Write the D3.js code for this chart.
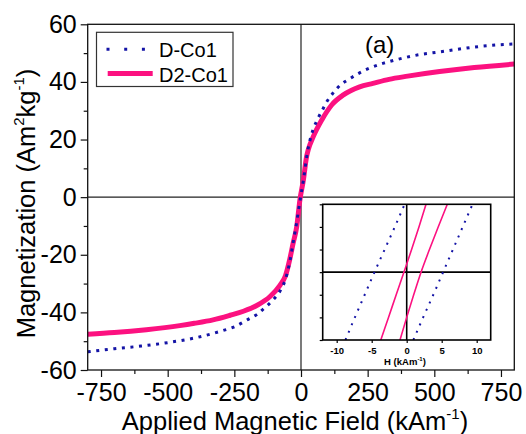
<!DOCTYPE html>
<html>
<head>
<meta charset="utf-8">
<script src="https://cdn.jsdelivr.net/npm/d3@7"></script>
<style>
  html, body { margin: 0; padding: 0; background: #fff; }
  svg { display: block; font-family: "Liberation Sans", Arial, sans-serif; }
</style>
</head>
<body>
<svg id="chart" width="526" height="434"></svg>
<script>
// Magnetization curves, M (Am^2/kg) versus applied field H (kA/m)
const seriesNames = ["D-Co1", "D2-Co1"];

const fieldDCo1 = [-800, -700, -600, -500, -400, -300, -250, -200, -165, -135, -100, -80, -65, -52, -40, -29, -16, -8, 0, 10, 24, 38, 50, 65, 80, 96, 119, 150, 181, 215, 250, 310, 370, 440, 510, 570, 650, 730, 800];
const magDCo1   = [-53.7, -52.6, -51.7, -50.5, -48.9, -46.5, -45.0, -42.5, -40.7, -38.3, -35.2, -32.8, -30.2, -26.5, -21.5, -15.5, -8.6, -3.8, 0.8, 6.5, 15.5, 21.3, 24.6, 27.6, 30.2, 33.0, 36.0, 39.1, 41.0, 42.9, 44.5, 46.5, 48.0, 49.4, 50.3, 51.1, 52.1, 52.8, 53.2];

const fieldD2Co1 = [-800, -700, -580, -455, -400, -330, -266, -216, -166, -116, -79, -58, -42, -30, -16, -4, 9, 21, 27, 46, 78, 115, 159, 220, 270, 330, 400, 520, 650, 800];
const magD2Co1   = [-47.6, -47.0, -46.0, -44.6, -43.8, -42.6, -41.0, -39.6, -37.6, -34.5, -30.6, -27.2, -21.5, -16.2, -10.2, -0.9, 6.0, 14.1, 16.4, 21.0, 26.8, 32.0, 35.5, 38.3, 39.5, 40.9, 42.0, 43.6, 45.0, 46.2];

// Low-field detail of the loops (inset)
const insetMag        = [-3, -2, -1, 0, 1, 2, 3];
const insetDCo1Down   = [-8.75, -7.4, -6.0, -4.6, -3.15, -1.7, -0.3];
const insetDCo1Up     = [0.95, 2.35, 3.8, 5.2, 6.6, 8.0, 9.4];
const insetD2Co1Down  = [-3.7, -2.6, -1.5, -0.4, 0.7, 1.75, 2.76];
const insetD2Co1Up    = [-0.96, 0.0, 1.0, 2.05, 3.25, 4.5, 5.8];

const xTickValues = [-750, -500, -250, 0, 250, 500, 750];
const xMinorTicks = [-625, -375, -125, 125, 375, 625];
const yTickValues = [-60, -40, -20, 0, 20, 40, 60];
const yMinorTicks = [-50, -30, -10, 10, 30, 50];
const insetXTicks = [-10, -5, 0, 5, 10];
const insetYTicks = [-3, -2, -1, 0, 1, 2, 3];

const blue = "#1414a6";
const pink = "#fc1180";

const svg = d3.select("#chart");

const plot = { left: 87.7, right: 514.3, top: 24.3, bottom: 370 };
const x = d3.scaleLinear().domain([-800, 800]).range([plot.left, plot.right]);
const y = d3.scaleLinear().domain([-60, 60]).range([plot.bottom, plot.top]);

svg.append("defs").append("clipPath").attr("id", "plotClip")
  .append("rect")
  .attr("x", plot.left).attr("y", plot.top)
  .attr("width", plot.right - plot.left).attr("height", plot.bottom - plot.top);

// zero lines
svg.append("line")
  .attr("x1", x(0)).attr("x2", x(0)).attr("y1", plot.top).attr("y2", plot.bottom)
  .attr("stroke", "#333").attr("stroke-width", 1.3);
svg.append("line")
  .attr("x1", plot.left).attr("x2", plot.right).attr("y1", y(0)).attr("y2", y(0))
  .attr("stroke", "#222").attr("stroke-width", 1.3);

// axes
const fmt = d => String(d);
const xAxis = svg.append("g").attr("transform", `translate(0,${plot.bottom})`)
  .call(d3.axisBottom(x).tickValues(xTickValues).tickSize(7).tickPadding(6.5).tickFormat(fmt));
const xMinor = svg.append("g").attr("transform", `translate(0,${plot.bottom})`)
  .call(d3.axisBottom(x).tickValues(xMinorTicks).tickSize(4).tickFormat(""));
const yAxis = svg.append("g").attr("transform", `translate(${plot.left},0)`)
  .call(d3.axisLeft(y).tickValues(yTickValues).tickSize(7).tickPadding(4).tickFormat(fmt));
const yMinor = svg.append("g").attr("transform", `translate(${plot.left},0)`)
  .call(d3.axisLeft(y).tickValues(yMinorTicks).tickSize(4).tickFormat(""));

[xAxis, xMinor, yAxis, yMinor].forEach(g => {
  g.select(".domain").remove();
  g.selectAll(".tick line").attr("stroke", "#111").attr("stroke-width", 1.2);
  g.selectAll("text").attr("font-size", 25).attr("fill", "#000")
    .attr("font-family", "'Liberation Sans', Arial, sans-serif");
});

// curves
const mainLine = d3.line().x(d => x(d[0])).y(d => y(d[1])).curve(d3.curveMonotoneX);
const curves = svg.append("g").attr("clip-path", "url(#plotClip)");

curves.append("path")
  .datum(d3.zip(fieldD2Co1, magD2Co1))
  .attr("d", mainLine)
  .attr("fill", "none").attr("stroke", pink).attr("stroke-width", 5)
  .attr("stroke-linejoin", "round");

curves.append("path")
  .datum(d3.zip(fieldDCo1, magDCo1))
  .attr("d", mainLine)
  .attr("fill", "none").attr("stroke", blue).attr("stroke-width", 3)
  .attr("stroke-dasharray", "3,5.6");

// frame
svg.append("rect")
  .attr("x", plot.left).attr("y", plot.top)
  .attr("width", plot.right - plot.left).attr("height", plot.bottom - plot.top)
  .attr("fill", "none").attr("stroke", "#111").attr("stroke-width", 1.3);

// axis titles
const xTitle = svg.append("text")
  .attr("x", 295).attr("y", 430).attr("text-anchor", "middle")
  .attr("font-size", 25.5).attr("fill", "#000");
xTitle.append("tspan").text("Applied Magnetic Field (kAm");
xTitle.append("tspan").attr("font-size", 15).attr("dy", -11).text("-1");
xTitle.append("tspan").attr("dy", 11).text(")");

const yTitle = svg.append("text")
  .attr("transform", "translate(35,203.5) rotate(-90)")
  .attr("text-anchor", "middle").attr("font-size", 25.5).attr("fill", "#000");
yTitle.append("tspan").text("Magnetization (Am");
yTitle.append("tspan").attr("font-size", 15).attr("dy", -11).text("2");
yTitle.append("tspan").attr("dy", 11).text("kg");
yTitle.append("tspan").attr("font-size", 15).attr("dy", -11).text("-1");
yTitle.append("tspan").attr("dy", 11).text(")");

// panel label
svg.append("text").attr("x", 365).attr("y", 52.5)
  .attr("font-size", 24).attr("fill", "#000").text("(a)");

// legend
const legend = svg.append("g");
legend.append("rect")
  .attr("x", 96.5).attr("y", 32.3).attr("width", 136.5).attr("height", 54.2)
  .attr("fill", "#fff").attr("stroke", "#333").attr("stroke-width", 1.2);
legend.append("line")
  .attr("x1", 106.5).attr("x2", 146).attr("y1", 49.3).attr("y2", 49.3)
  .attr("stroke", blue).attr("stroke-width", 3).attr("stroke-dasharray", "3,14.7");
legend.append("line")
  .attr("x1", 107.7).attr("x2", 152.7).attr("y1", 73.5).attr("y2", 73.5)
  .attr("stroke", pink).attr("stroke-width", 5);
legend.append("text").attr("x", 159).attr("y", 56.5)
  .attr("font-size", 20).attr("fill", "#000").text(seriesNames[0]);
legend.append("text").attr("x", 159).attr("y", 81.5)
  .attr("font-size", 20).attr("fill", "#000").text(seriesNames[1]);

// inset: low-field region
const inset = { left: 322.7, right: 490.7, top: 204.3, bottom: 340 };
const xi = d3.scaleLinear().domain([-12, 12]).range([inset.left, inset.right]);
const yi = d3.scaleLinear().domain([-3, 3]).range([inset.bottom, inset.top]);

svg.select("defs").append("clipPath").attr("id", "insetClip")
  .append("rect")
  .attr("x", inset.left).attr("y", inset.top)
  .attr("width", inset.right - inset.left).attr("height", inset.bottom - inset.top);

const ig = svg.append("g");
ig.append("rect")
  .attr("x", inset.left).attr("y", inset.top)
  .attr("width", inset.right - inset.left).attr("height", inset.bottom - inset.top)
  .attr("fill", "#fff");

ig.append("line")
  .attr("x1", xi(0)).attr("x2", xi(0)).attr("y1", inset.top).attr("y2", inset.bottom)
  .attr("stroke", "#000").attr("stroke-width", 1.6);
ig.append("line")
  .attr("x1", inset.left).attr("x2", inset.right).attr("y1", yi(0)).attr("y2", yi(0))
  .attr("stroke", "#000").attr("stroke-width", 1.6);

const insetLine = d3.line().x(d => xi(d[0])).y(d => yi(d[1])).curve(d3.curveMonotoneY);
const ic = ig.append("g").attr("clip-path", "url(#insetClip)");

[insetD2Co1Down, insetD2Co1Up].forEach(branch => {
  ic.append("path")
    .datum(d3.zip(branch, insetMag))
    .attr("d", insetLine)
    .attr("fill", "none").attr("stroke", pink).attr("stroke-width", 1.6);
});
[insetDCo1Down, insetDCo1Up].forEach(branch => {
  ic.append("path")
    .datum(d3.zip(branch, insetMag))
    .attr("d", insetLine)
    .attr("fill", "none").attr("stroke", blue).attr("stroke-width", 2)
    .attr("stroke-dasharray", "2,6");
});

const ixAxis = ig.append("g").attr("transform", `translate(0,${inset.bottom})`)
  .call(d3.axisBottom(xi).tickValues(insetXTicks).tickSize(3).tickPadding(4).tickFormat(fmt));
const iyAxis = ig.append("g").attr("transform", `translate(${inset.left},0)`)
  .call(d3.axisLeft(yi).tickValues(insetYTicks).tickSize(3).tickFormat(""));
[ixAxis, iyAxis].forEach(g => {
  g.select(".domain").remove();
  g.selectAll(".tick line").attr("stroke", "#000").attr("stroke-width", 1.2);
  g.selectAll("text").attr("font-size", 9.5).attr("font-weight", "bold").attr("fill", "#000")
    .attr("font-family", "'Liberation Sans', Arial, sans-serif");
});

ig.append("rect")
  .attr("x", inset.left).attr("y", inset.top)
  .attr("width", inset.right - inset.left).attr("height", inset.bottom - inset.top)
  .attr("fill", "none").attr("stroke", "#000").attr("stroke-width", 1.6);

const iTitle = ig.append("text")
  .attr("x", 405).attr("y", 365).attr("text-anchor", "middle")
  .attr("font-size", 9.5).attr("font-weight", "bold").attr("fill", "#000");
iTitle.append("tspan").text("H (kAm");
iTitle.append("tspan").attr("font-size", 6).attr("dy", -4).text("-1");
iTitle.append("tspan").attr("dy", 4).text(")");
</script>
</body>
</html>
